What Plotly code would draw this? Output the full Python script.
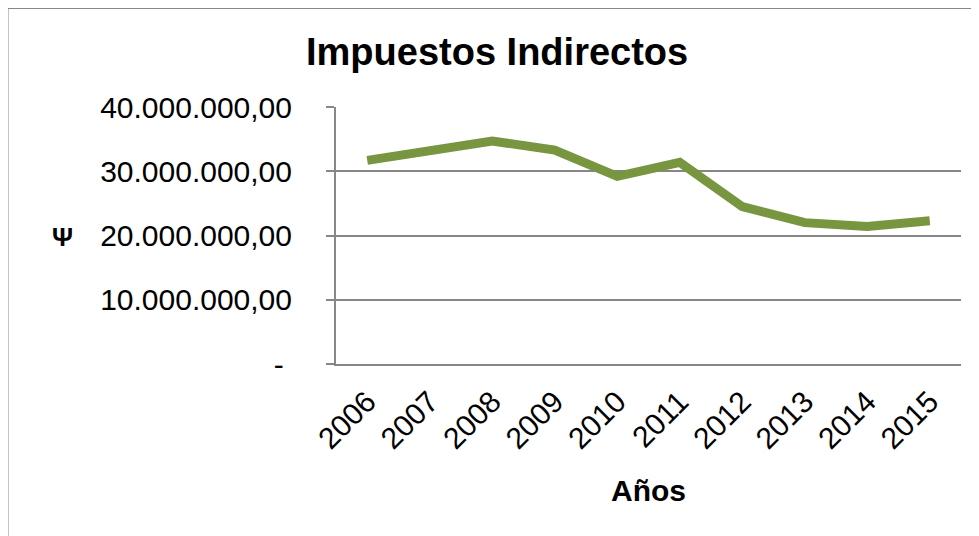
import plotly.graph_objects as go

# datos
anios = ['2006', '2007', '2008', '2009', '2010', '2011', '2012', '2013', '2014', '2015']
impuestos = [31700000, 33100000, 34700000, 33300000, 29200000,
             31400000, 24500000, 22000000, 21400000, 22300000]
y_ticks = [0, 10000000, 20000000, 30000000, 40000000]
y_labels = ['-\u00a0', '10.000.000,00', '20.000.000,00', '30.000.000,00', '40.000.000,00']

W, H = 979, 536
OFF = 8  # margen del body en la pagina
# area del grafico en la captura: x 336-961, y 107-364
L, T = 336 - OFF, 107 - OFF
R, B = W - (961 - OFF), H - (364 - OFF)
PW, PH = W - L - R, H - T - B
FONT = "Liberation Sans, Arial, sans-serif"
GRIS = "#878787"


def px_x(x):
    return (x - OFF - L) / PW


def px_y(y):
    return (H - B - (y - OFF)) / PH


fig = go.Figure()
fig.add_trace(go.Scatter(
    x=anios, y=impuestos, mode='lines',
    line=dict(color='#77963F', width=9),
    hoverinfo='skip'))

fig.update_layout(
    width=W, height=H,
    margin=dict(l=L, r=R, t=T, b=B),
    paper_bgcolor='white', plot_bgcolor='white',
    showlegend=False,
    font=dict(family=FONT, size=30, color='black'),
)
fig.update_xaxes(
    type='category', tickangle=-45, range=[-0.5, len(anios) - 0.5],
    showline=True, linecolor=GRIS, linewidth=2, automargin=False,
    showgrid=False, ticks='', ticklabelstandoff=6, tickfont=dict(size=30))
fig.update_yaxes(
    range=[0, 40000000], tickvals=y_ticks, ticktext=y_labels,
    showline=True, linecolor=GRIS, linewidth=2, automargin=False,
    showgrid=True, gridcolor=GRIS, gridwidth=2, zeroline=False,
    ticks='outside', ticklen=8, tickcolor=GRIS, tickwidth=2,
    ticklabelstandoff=28, tickfont=dict(size=30))

# borde exterior del grafico
fig.add_shape(type='rect', xref='paper', yref='paper',
              x0=px_x(7.5), x1=px_x(W + 40), y0=px_y(H + 40), y1=px_y(8),
              line=dict(color=GRIS, width=2), fillcolor='rgba(0,0,0,0)')

fig.add_annotation(text='<b>Impuestos Indirectos</b>', xref='paper', yref='paper',
                   x=px_x(497), y=px_y(52), showarrow=False,
                   font=dict(size=38), xanchor='center', yanchor='middle')
fig.add_annotation(text='<b>Años</b>', xref='paper', yref='paper',
                   x=px_x(648), y=px_y(490), showarrow=False,
                   font=dict(size=30), xanchor='center', yanchor='middle')
fig.add_annotation(text='<b>Ψ</b>', xref='paper', yref='paper',
                   x=px_x(62), y=px_y(237), showarrow=False,
                   font=dict(size=26), xanchor='center', yanchor='middle')

fig.write_html("out.html")
